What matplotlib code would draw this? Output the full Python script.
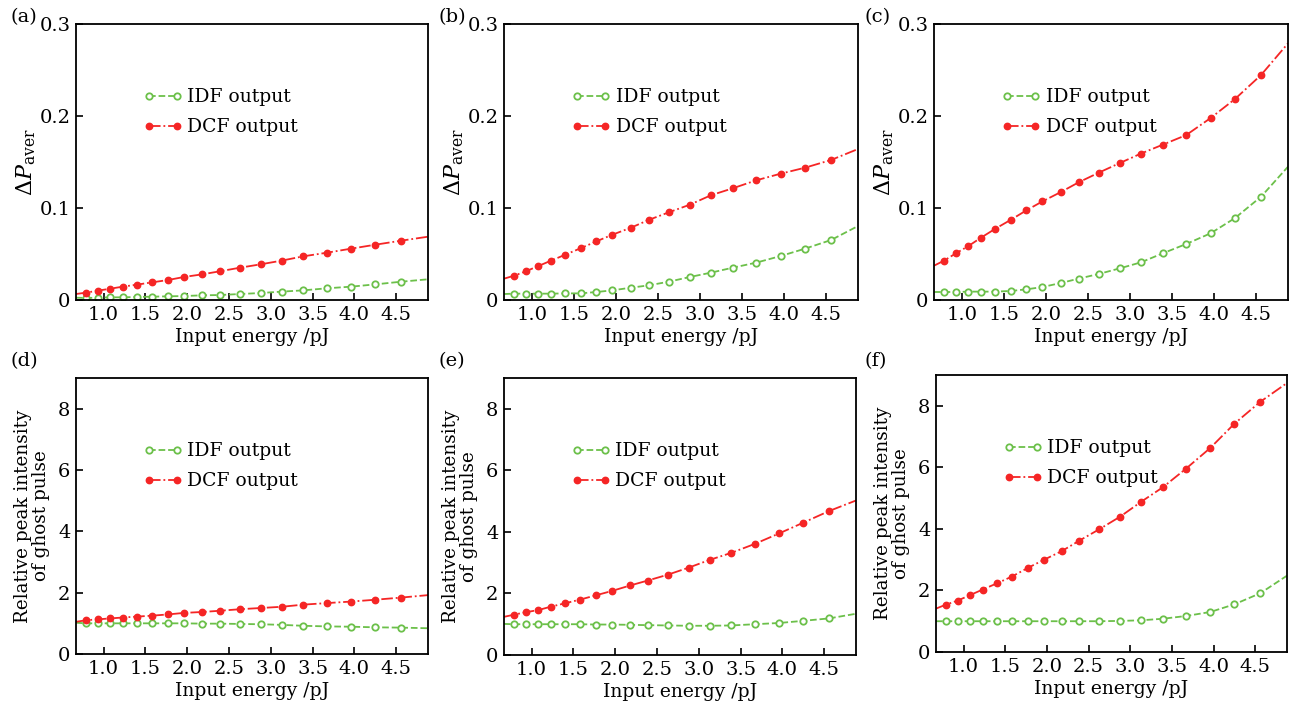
import matplotlib
matplotlib.use("Agg")
import matplotlib.pyplot as plt

# wspolne wartosci osi x (pozycje markerow) + konce linii
x_pts = [0.79, 0.93, 1.08, 1.23, 1.40, 1.58, 1.77, 1.96, 2.18, 2.39,
         2.63, 2.88, 3.13, 3.39, 3.67, 3.96, 4.25, 4.56]
x_start, x_end = 0.67, 4.88

# (a)-(c): Delta P_aver, pierwszy i ostatni punkt = konce linii
a_idf = [0.0025, 0.0022, 0.0025, 0.0029, 0.0029, 0.0033, 0.0036, 0.0040, 0.0043, 0.0051,
         0.0054, 0.0065, 0.0076, 0.0091, 0.0105, 0.0127, 0.0145, 0.0170, 0.0199, 0.0225]
a_dcf = [0.0065, 0.0080, 0.0101, 0.0123, 0.0145, 0.0167, 0.0192, 0.0217, 0.0250, 0.0279,
         0.0312, 0.0351, 0.0388, 0.0428, 0.0475, 0.0514, 0.0558, 0.0601, 0.0645, 0.0688]
b_idf = [0.0065, 0.0069, 0.0069, 0.0069, 0.0069, 0.0072, 0.0072, 0.0087, 0.0105, 0.0134,
         0.0159, 0.0199, 0.0250, 0.0297, 0.0351, 0.0406, 0.0478, 0.0558, 0.0652, 0.0804]
b_dcf = [0.0232, 0.0264, 0.0312, 0.0370, 0.0428, 0.0493, 0.0562, 0.0638, 0.0710, 0.0786,
         0.0870, 0.0953, 0.1036, 0.1138, 0.1214, 0.1301, 0.1373, 0.1438, 0.1522, 0.1641]
c_idf = [0.0087, 0.0087, 0.0087, 0.0091, 0.0091, 0.0091, 0.0098, 0.0116, 0.0141, 0.0185,
         0.0232, 0.0283, 0.0344, 0.0409, 0.0507, 0.0609, 0.0725, 0.0891, 0.1123, 0.1449]
c_dcf = [0.0373, 0.0428, 0.0507, 0.0587, 0.0678, 0.0775, 0.0870, 0.0975, 0.1072, 0.1174,
         0.1279, 0.1384, 0.1489, 0.1591, 0.1688, 0.1793, 0.1978, 0.2185, 0.2446, 0.2790]

# (d)-(f): wzgledna intensywnosc impulsu ghost
d_idf = [1.02, 1.00, 1.00, 1.00, 1.00, 1.00, 1.00, 1.00, 1.00, 0.99, 0.99,
         0.98, 0.97, 0.95, 0.92, 0.90, 0.89, 0.87, 0.86, 0.84]
d_dcf = [1.05, 1.10, 1.13, 1.16, 1.19, 1.22, 1.25, 1.29, 1.34, 1.37, 1.41,
         1.46, 1.50, 1.54, 1.61, 1.66, 1.71, 1.77, 1.84, 1.92]
e_idf = [1.01, 1.00, 1.00, 1.00, 1.00, 1.00, 1.00, 0.99, 0.99, 0.98, 0.97,
         0.96, 0.95, 0.95, 0.96, 1.00, 1.04, 1.11, 1.19, 1.34]
e_dcf = [1.24, 1.31, 1.39, 1.46, 1.57, 1.68, 1.80, 1.94, 2.08, 2.26, 2.42,
         2.61, 2.84, 3.09, 3.32, 3.61, 3.95, 4.30, 4.68, 5.02]
f_idf = [1.00, 1.00, 1.00, 1.00, 1.00, 1.00, 1.00, 1.00, 1.00, 1.00, 1.00,
         1.00, 1.01, 1.03, 1.08, 1.17, 1.30, 1.55, 1.91, 2.48]
f_dcf = [1.41, 1.54, 1.67, 1.85, 2.03, 2.23, 2.45, 2.73, 2.99, 3.28, 3.62,
         3.99, 4.40, 4.88, 5.35, 5.96, 6.63, 7.42, 8.13, 8.74]

panels = [
    ("(a)", a_idf, a_dcf), ("(b)", b_idf, b_dcf), ("(c)", c_idf, c_dcf),
    ("(d)", d_idf, d_dcf), ("(e)", e_idf, e_dcf), ("(f)", f_idf, f_dcf),
]

# pozycje osi w pikselach (lewo, gora, prawo, dol)
W, H = 1291, 710
boxes = [(76, 24, 428, 300), (504, 24, 858, 300), (934, 24, 1288, 300),
         (76, 378, 428, 654), (504, 378, 856, 655), (936, 375, 1287, 652)]
label_xy = [(10, 17), (438, 17), (864, 17), (10, 361), (438, 361), (864, 361)]

GREEN = '#6cc04a'
RED = '#f52525'

plt.rcParams['font.family'] = ['DejaVu Serif']
plt.rcParams['mathtext.fontset'] = 'dejavuserif'
plt.rcParams['font.size'] = 13

fig = plt.figure(figsize=(W / 100, H / 100), dpi=100)
x_line = [x_start] + x_pts + [x_end]

for i, ((tag, idf, dcf), (l, t, r, b)) in enumerate(zip(panels, boxes)):
    ax = fig.add_axes([l / W, 1 - b / H, (r - l) / W, (b - t) / H])
    ax.plot(x_line, idf, '--', color=GREEN, lw=1.3, marker='o', ms=4.6,
            mfc='white', mec=GREEN, mew=1.3, markevery=slice(1, -1),
            label='IDF output')
    ax.plot(x_line, dcf, '-.', color=RED, lw=1.3, marker='o', ms=4.6,
            mfc=RED, mec=RED, markevery=slice(1, -1), label='DCF output')
    ax.set_xlim(x_start, x_end)
    ax.set_xticks([1.0, 1.5, 2.0, 2.5, 3.0, 3.5, 4.0, 4.5])
    ax.set_xticklabels(['1.0', '1.5', '2.0', '2.5', '3.0', '3.5', '4.0', '4.5'])
    if i < 3:
        ax.set_ylim(0, 0.3)
        ax.set_yticks([0, 0.1, 0.2, 0.3])
        ax.set_yticklabels(['0', '0.1', '0.2', '0.3'])
        ax.set_ylabel(r'$\Delta P_{\rm aver}$', labelpad=1, fontsize=16)
    else:
        ax.set_ylim(0, 9)
        ax.set_yticks([0, 2, 4, 6, 8])
        ax.set_ylabel('Relative peak intensity\nof ghost pulse', labelpad=6,
                      linespacing=0.95, fontsize=13.2)
    lx, ly = label_xy[i]
    fig.text(lx / W, 1 - ly / H, tag, ha='left', va='center', fontsize=14)
    ax.set_xlabel('Input energy /pJ', labelpad=3, fontsize=13.5)
    ax.tick_params(direction='in', length=5, width=1.2, top=False, right=False,
                   pad=4, labelsize=14)
    for s in ax.spines.values():
        s.set_linewidth(1.3)
    ax.legend(loc='upper left', bbox_to_anchor=(0.17, 0.795), frameon=False,
              numpoints=2, handlelength=2.1, handletextpad=0.25,
              labelspacing=0.65, borderaxespad=0, fontsize=13.5)

fig.savefig('out.png', dpi=100)
